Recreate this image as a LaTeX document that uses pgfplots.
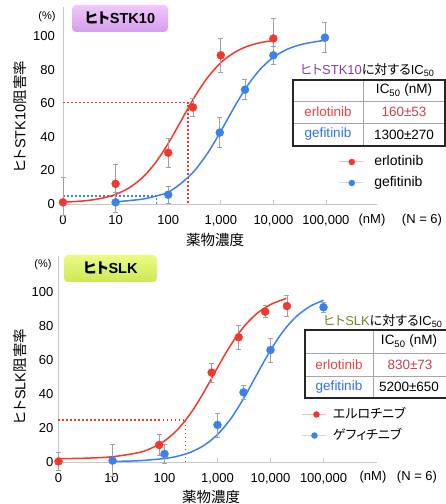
\documentclass[border=0pt]{standalone}
\usepackage{fontspec}
\setmainfont{Liberation Sans}
\newfontfamily\jp{Noto Sans CJK JP}[RawFeature=+palt]
\usepackage{pgfplots}
\pgfplotsset{compat=1.18}
\definecolor{mred}{HTML}{F4372D}
\definecolor{mblue}{HTML}{3C80F0}
\definecolor{egray}{HTML}{A0A0A0}
\definecolor{axgray}{HTML}{C8C8C8}
\definecolor{cpurple}{HTML}{8A3DA8}
\definecolor{colive}{HTML}{6E8C1E}
\definecolor{vred}{HTML}{C8414E}
\definecolor{tred}{HTML}{F04040}
\definecolor{tblue}{HTML}{3070F0}
\newcommand{\fs}[1]{\fontsize{#1}{#1}\selectfont}
\pgfplotsset{
  panel/.style={
    scale only axis, clip=false, anchor=south west,
    axis lines=left, axis line style={-, color=axgray, line width=0.8pt},
    xmin=0, ymin=0,
    xtick={0,1,2,3,4,5}, xticklabels={0,10,100,{1,000},{10,000},{100,000}},
    ytick={0,20,40,60,80,100}, yticklabels={0,20,40,60,80,100},
    tick align=inside, major tick length=4pt,
    xtick style={color=axgray, line width=0.6pt},
    ytick style={draw=none},
    ticklabel style={font=\fs{13}},
    xticklabel style={anchor=north, inner sep=0pt, yshift=-11pt},
    yticklabel style={anchor=east, inner sep=0pt},
  },
  err/.style={error bars/.cd, y dir=both, y explicit,
    error bar style={color=egray, line width=0.7pt},
    error mark options={rotate=90, mark size=2.5pt, color=egray, line width=0.7pt}},
  pts/.style={only marks, mark=*, mark size=4pt, color=#1, forget plot},
  crv/.style={color=#1, line width=1.5pt, smooth, no marks, forget plot},
  dots/.style={color=#1, line width=1.5pt, dash pattern=on 1.5pt off 2.5pt, no marks, forget plot},
}
\begin{document}
\begin{tikzpicture}
\useasboundingbox (0,0) rectangle (446pt,504pt);
% ---------------- top panel ----------------
\begin{axis}[panel, at={(63pt,300pt)}, width=314pt, height=196.6pt,
  xmax=5.97, ymax=117,
  yticklabel style={xshift=-8pt},
  legend style={at={(axis cs:5.23,18.75)}, anchor=west, draw=none, fill=none,
    inner sep=0pt, font=\fs{14}, row sep=8pt, column sep=11pt,
    nodes={inner sep=0pt, text height=10pt, text depth=3pt}},
  legend cell align=left]
\addlegendimage{legend image code/.code={\draw[mred!35, line width=1pt] (0pt,0pt) -- (24pt,0pt); \fill[mred] (13pt,0pt) circle (3pt);}}
\addlegendentry{erlotinib}
\addlegendimage{legend image code/.code={\draw[mblue!30, line width=1pt] (0pt,0pt) -- (24pt,0pt); \fill[mblue] (13pt,0pt) circle (3pt);}}
\addlegendentry{gefitinib}
\addplot[dots=mred] coordinates {(0,60.3) (2.38,60.3) (2.38,0)};
\addplot[dots=mblue] coordinates {(0,4.8) (1.78,4.8) (1.78,0)};
\addplot[crv=mred] coordinates {(0,1.05) (0.25,1.5) (0.5,2.2) (0.75,3.5) (1,5.7) (1.25,9.5) (1.5,15.4) (1.75,24.2) (2,36) (2.25,49.8) (2.5,63.6) (2.75,75.3) (3,84.1) (3.25,90) (3.5,93.8) (3.75,96) (4,97.3)};
\addplot[crv=mblue] coordinates {(1,1.26) (1.5,2.85) (1.75,4.6) (2,7.0) (2.25,12.4) (2.5,19.8) (2.75,30.3) (3,43.3) (3.25,57.3) (3.5,70.1) (3.75,80.2) (4,87.3) (4.25,91.9) (4.5,94.7) (4.75,96.3) (5,97.5)};
\addplot[pts=mred, err] coordinates {(0,1) += (0,15) -= (0,8) (1,12) +- (0,11.5) (2,30.5) +- (0,8.5) (2.47,57.5) +- (0,5.5) (3,88.5) +- (0,10) (4,98.5) +- (0,12)};
\addplot[pts=mblue, err] coordinates {(1,1) +- (0,6) (2,5.5) +- (0,5) (2.98,42.5) +- (0,9) (3.46,68) +- (0,6) (4,88.5) +- (0,5.5) (4.98,99) +- (0,9)};
\end{axis}
% ---------------- bottom panel ----------------
\begin{axis}[panel, at={(58.5pt,41.7pt)}, width=318pt, height=206.4pt,
  xmax=6.0, ymax=121,
  yticklabel style={xshift=-5pt},
  legend style={at={(axis cs:4.59,21.85)}, anchor=west, draw=none, fill=none,
    inner sep=0pt, font=\fs{13}\jp, row sep=8pt, column sep=6pt,
    nodes={inner sep=0pt, text height=10pt, text depth=3pt}},
  legend cell align=left]
\addlegendimage{legend image code/.code={\draw[mred!35, line width=1pt] (0pt,0pt) -- (24pt,0pt); \fill[mred] (14pt,0pt) circle (3pt);}}
\addlegendentry{エルロチニブ}
\addlegendimage{legend image code/.code={\draw[mblue!30, line width=1pt] (0pt,0pt) -- (24pt,0pt); \fill[mblue] (12pt,0pt) circle (3pt);}}
\addlegendentry{ゲフィチニブ}
\addplot[dots=mred] coordinates {(0,24.8) (2.4,24.8) (2.4,0)};
\addplot[crv=mred] coordinates {(0,2.1) (0.5,2.4) (1,3.2) (1.5,5.6) (1.75,8.2) (2,12.5) (2.25,19.3) (2.5,29) (2.75,41.5) (3,55.5) (3.25,68.8) (3.5,79.6) (3.75,87.4) (4,92.5) (4.3,96.1)};
\addplot[crv=mblue] coordinates {(1,0.5) (1.5,0.9) (2,2.2) (2.25,3.6) (2.5,6.0) (2.75,10) (3,16.3) (3.25,25.5) (3.5,37.8) (3.75,51.9) (4,65.7) (4.25,77.3) (4.5,85.8) (4.75,91.5) (5,95)};
\addplot[pts=mred, err] coordinates {(0,0.5) +- (0,5.5) (1.9,10.2) +- (0,6) (2.89,52.6) +- (0,5.5) (3.40,73.3) +- (0,7) (3.9,88.3) +- (0,3.5) (4.31,91.6) +- (0,6)};
\addplot[pts=mblue, err] coordinates {(1.02,1) +- (0,9.5) (2.0,4.9) +- (0,5.5) (3.0,21.9) +- (0,7) (3.49,41) +- (0,4) (4.0,65.8) +- (0,7) (5.0,90.9) +- (0,3)};
\end{axis}
% ---------------- annotations ----------------
% title boxes
\shade[rounded corners=4pt, top color={rgb,255:red,240;green,200;blue,250}, bottom color={rgb,255:red,214;green,158;blue,238}] (72pt,499pt) rectangle (168pt,472pt);
\node[font=\fs{14.5}\bfseries] at (120pt,485.5pt) {{\jp ヒト}STK10};
\shade[rounded corners=4pt, top color={rgb,255:red,236;green,250;blue,130}, bottom color={rgb,255:red,205;green,232;blue,88}] (64pt,249pt) rectangle (157pt,222pt);
\node[font=\fs{14.5}\bfseries] at (110.5pt,235.5pt) {{\jp ヒト}SLK};
% (%)
\node[font=\fs{11}] at (47pt,487pt) {(\%)};
\node[font=\fs{11}] at (43pt,239pt) {(\%)};
% units
\node[font=\fs{13}] at (372pt,284pt) {(nM)};
\node[font=\fs{13}] at (422pt,284pt) {(N = 6)};
\node[font=\fs{13}] at (373pt,27pt) {(nM)};
\node[font=\fs{13}] at (417pt,27pt) {(N = 6)};
% axis labels
\node[font=\fs{14.5}\jp] at (215pt,264pt) {薬物濃度};
\node[font=\fs{14.5}\jp] at (211pt,7pt) {薬物濃度};
\node[font=\fs{14.5}, rotate=90] at (20pt,387pt) {{\jp ヒト}STK10{\jp 阻害率}};
\node[font=\fs{14.5}, rotate=90] at (20pt,127.5pt) {{\jp ヒト}SLK{\jp 阻害率}};
% top table
\node[font=\fs{13}] at (367.5pt,434pt) {{\color{cpurple}{\jp ヒト}STK10}{\jp に対する}IC\textsubscript{50}};
\draw[gray!70, line width=0.6pt] (293pt,403pt) -- (445pt,403pt) (293pt,381pt) -- (445pt,381pt) (363pt,424pt) -- (363pt,358pt);
\draw[black!85, line width=1.2pt] (293pt,424pt) rectangle (445pt,358pt);
\node[font=\fs{13.5}] at (404pt,413.5pt) {IC\textsubscript{50} (nM)};
\node[font=\fs{13.5}, text=tred] at (328pt,392pt) {erlotinib};
\node[font=\fs{13.5}, text=vred] at (404pt,392pt) {160±53};
\node[font=\fs{13.5}, text=tblue] at (328pt,369.5pt) {gefitinib};
\node[font=\fs{13.5}] at (404pt,369.5pt) {1300±270};
% bottom table
\node[font=\fs{13}] at (383pt,183.3pt) {{\color{colive}{\jp ヒト}SLK}{\jp に対する}IC\textsubscript{50}};
\draw[gray!70, line width=0.6pt] (305pt,151pt) -- (450pt,151pt) (305pt,128pt) -- (450pt,128pt) (373pt,174pt) -- (373pt,106pt);
\draw[black!85, line width=1.2pt] (305pt,174pt) rectangle (450pt,106pt);
\node[font=\fs{13.5}] at (409pt,162.5pt) {IC\textsubscript{50} (nM)};
\node[font=\fs{13.5}, text=tred] at (339pt,139.5pt) {erlotinib};
\node[font=\fs{13.5}, text=vred] at (410pt,139.5pt) {830±73};
\node[font=\fs{13.5}, text=tblue] at (339pt,117pt) {gefitinib};
\node[font=\fs{13.5}] at (409pt,117pt) {5200±650};
\end{tikzpicture}
\end{document}
